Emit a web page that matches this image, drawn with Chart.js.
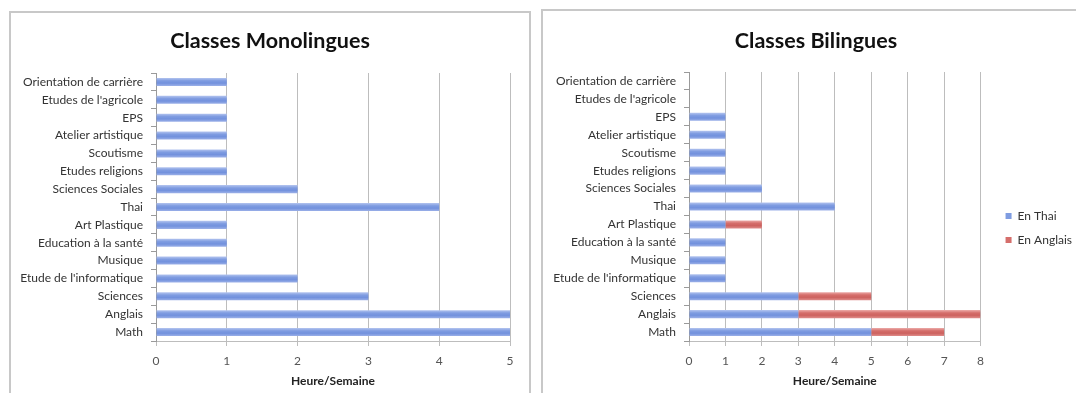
<!DOCTYPE html>
<html><head><meta charset="utf-8">
<script src="https://cdn.jsdelivr.net/npm/chart.js@4.4.1/dist/chart.umd.min.js"></script>
<style>
html,body{margin:0;padding:0;background:#fff;overflow:hidden;width:1076px;height:393px;}
.panel{position:absolute;border:2px solid #c8c8c8;box-sizing:border-box;}
#p1{left:9px;top:11px;width:522px;height:420px;}
#p2{left:541px;top:9px;width:620px;height:420px;}
canvas{position:absolute;}
#c1{left:12px;top:13px;}
#c2{left:544px;top:11px;}
</style></head><body>
<div class="panel" id="p1"></div><div class="panel" id="p2"></div>
<canvas id="c1" width="517" height="380"></canvas>
<canvas id="c2" width="538" height="382"></canvas>
<script>
const categories = ["Orientation de carrière","Etudes de l'agricole","EPS","Atelier artistique","Scoutisme","Etudes religions","Sciences Sociales","Thai","Art Plastique","Education à la santé","Musique","Etude de l'informatique","Sciences","Anglais","Math"];
const monoHours   = [1,1,1,1,1,1,2,4,1,1,1,2,3,5,5];
const biThai      = [0,0,1,1,1,1,2,4,1,1,1,1,3,3,5];
const biAnglais   = [0,0,0,0,0,0,0,0,1,0,0,0,2,5,2];
const monoMax = 5;
const biMax = 8;
const titles = ["Classes Monolingues","Classes Bilingues"];
const seriesNames = ["En Thai","En Anglais"];
const axisTitle = "Heure/Semaine";

const F = "Lato, 'Open Sans', sans-serif";
const BLUE = ['#b3c4ef','#7f9ce1','#7291dd','#9bb0e8'];
const RED  = ['#ecaaa8','#d56e6b','#cd625f','#df8c8a'];
const SOLID = ['#7f9ce1','#d56e6b'];

function stripe(cols){
  return function(c){
    const ch = c.chart, ys = ch.scales && ch.scales.y;
    if(!ch.chartArea || !ys) return cols[1];
    const y = ys.getPixelForValue(c.dataIndex);
    const g = ch.ctx.createLinearGradient(0, y-4, 0, y+4);
    g.addColorStop(0, cols[0]); g.addColorStop(0.35, cols[1]);
    g.addColorStop(0.65, cols[2]); g.addColorStop(1, cols[3]);
    return g;
  };
}

// let the category labels use the whole left margin (avoid clipping)
const widenLabels = {
  id:'widenLabels',
  afterLayout(chart){ if (chart.scales.y) chart.scales.y.left = 0; }
};

function makeOptions(max, yWidth, pad, titlePad, withLegend){
  return {
    indexAxis:'y', responsive:false, animation:false,
    layout:{padding:pad},
    datasets:{bar:{barPercentage:0.5, categoryPercentage:0.9}},
    scales:{
      x:{type:'linear', min:0, max:max, stacked:true,
        ticks:{stepSize:1, padding:8, color:'#555', font:{family:F,size:12}},
        grid:{color:'#bdbdbd', lineWidth:1, tickLength:5},
        border:{color:'#bdbdbd'},
        title:{display:true, text:axisTitle, color:'#222', padding:0, font:{family:F,size:12,weight:'bold'}},
        afterFit(s){ s.height = 47; }
      },
      y:{type:'category', stacked:true, offset:true,
        grid:{offset:true, drawOnChartArea:false, tickLength:5, color:'#9a9a9a'},
        border:{color:'#9a9a9a'},
        ticks:{padding:8, autoSkip:false, color:'#333', font:{family:F,size:12}},
        afterFit(s){ s.width = yWidth; }
      },
      ...(withLegend ? {y2:{type:'linear', position:'right', display:true,
        grid:{display:false}, ticks:{display:false}, border:{display:false},
        afterFit(s){ s.width = 13; }}} : {})
    },
    plugins:{
      tooltip:{enabled:false},
      title:{display:true, text:'', color:'#111', font:{family:F,size:21.5,weight:'bold'}, padding:titlePad},
      legend: withLegend ? {
        display:true, position:'right', align:'start',
        title:{display:true, text:' ', padding:{top:175,bottom:0}, font:{family:F,size:10}},
        labels:{boxWidth:6, boxHeight:6, padding:12, color:'#333', font:{family:F,size:12},
          generateLabels(chart){
            const items = Chart.defaults.plugins.legend.labels.generateLabels(chart);
            items.forEach((it,i)=>{ it.fillStyle = SOLID[i]; it.strokeStyle = SOLID[i]; it.lineWidth = 0; });
            return items;
          }}
      } : {display:false}
    }
  };
}

const o1 = makeOptions(monoMax, 126, {left:18,right:19,top:0,bottom:5}, {top:15.1,bottom:19.1}, false);
o1.plugins.title.text = titles[0];
new Chart(document.getElementById('c1'), {
  type:'bar',
  data:{labels:categories, datasets:[{label:seriesNames[0], data:monoHours, backgroundColor:stripe(BLUE)}]},
  options:o1,
  plugins:[widenLabels]
});

const o2 = makeOptions(biMax, 139, {left:6,right:0,top:0,bottom:5}, {top:16.7,bottom:18.5}, true);
o2.plugins.title.text = titles[1];
new Chart(document.getElementById('c2'), {
  type:'bar',
  data:{labels:categories, datasets:[
    {label:seriesNames[0], data:biThai, backgroundColor:stripe(BLUE)},
    {label:seriesNames[1], data:biAnglais, backgroundColor:stripe(RED)}
  ]},
  options:o2,
  plugins:[widenLabels]
});
</script>
</body></html>
